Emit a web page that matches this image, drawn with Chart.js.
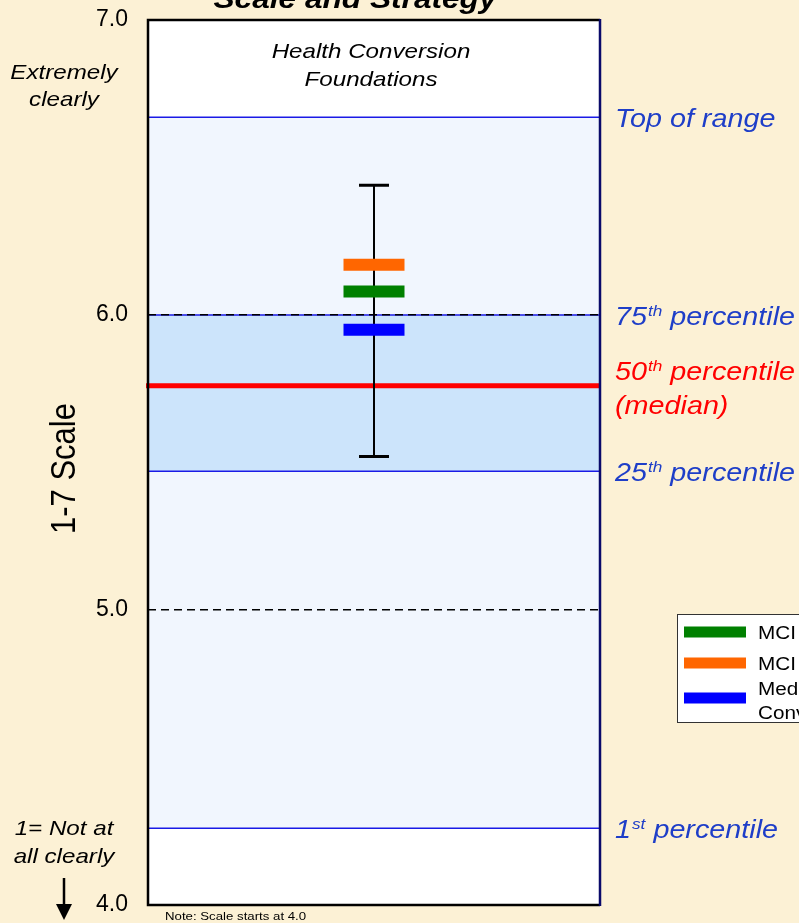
<!DOCTYPE html>
<html>
<head>
<meta charset="utf-8">
<script src="https://cdn.jsdelivr.net/npm/chart.js@4.4.1/dist/chart.umd.min.js"></script>
<style>
    html, body {
        margin: 0;
        padding: 0;
        background: #fcf1d5;
        overflow: hidden;
    }
    #wrap {
        width: 799px;
        height: 923px;
    }
</style>
</head>
<body>
<div id="wrap"><canvas id="scaleChart" width="799" height="923"></canvas></div>
<script>
// Chart values
const categories = ['Health Conversion Foundations'];
const seriesNames = ['MCI Top Quartile', 'MCI Average', 'Median\nConversion'];
const greenValues = [6.08];
const orangeValues = [6.17];
const blueValues = [5.95];
const rangeLow = [5.52];
const rangeHigh = [6.44];

// Reference lines: top of range, 75th, 50th, 25th, 1st percentile
const refValues = [6.67, 6.0, 5.76, 5.47, 4.26];
const refNums = ['', '75', '50', '25', '1'];
const refSups = ['', 'th', 'th', 'th', 'st'];
const refTexts = ['Top of range', ' percentile', ' percentile', ' percentile', ' percentile'];

const yTicks = [4, 5, 6, 7];

const seriesValues = [greenValues, orangeValues, blueValues];
const seriesColors = ['#008000', '#ff6600', '#0000ff'];

const FONT = '"Liberation Sans", Arial, sans-serif';
const SX = 1.15; // lettering in the source is a bit wide

function drawText(ctx, text, x, y, font, color, align = 'left') {
    ctx.save();
    ctx.font = font;
    ctx.fillStyle = color;
    ctx.textBaseline = 'alphabetic';
    ctx.textAlign = 'left';
    const w = ctx.measureText(text).width * SX;
    let left = x;
    if (align === 'center') left = x - w / 2;
    if (align === 'right') left = x - w;
    ctx.translate(left, y);
    ctx.scale(SX, 1);
    ctx.fillText(text, 0, 0);
    ctx.restore();
    return w;
}

function drawRefLabel(ctx, i, x, y, color) {
    let cx = x;
    if (refNums[i]) {
        cx += drawText(ctx, refNums[i], cx, y, `italic 25px ${FONT}`, color);
        cx += drawText(ctx, refSups[i], cx + 1, y - 9, `italic 15px ${FONT}`, color) + 1;
    }
    drawText(ctx, refTexts[i], cx, y, `italic 25px ${FONT}`, color);
}

const backdropPlugin = {
    id: 'backdrop',
    beforeDraw(chart) {
        const { ctx, chartArea: a, scales: { y } } = chart;
        ctx.save();
        ctx.fillStyle = '#fcf1d5';
        ctx.fillRect(0, 0, chart.width, chart.height);
        ctx.fillStyle = '#ffffff';
        ctx.fillRect(a.left, a.top, a.right - a.left, a.bottom - a.top);

        // range band and interquartile band
        const yTop = y.getPixelForValue(refValues[0]);
        const y1 = y.getPixelForValue(refValues[4]);
        ctx.fillStyle = '#f1f6fe';
        ctx.fillRect(a.left, yTop, a.right - a.left, y1 - yTop);
        const y75 = y.getPixelForValue(refValues[1]);
        const y25 = y.getPixelForValue(refValues[3]);
        ctx.fillStyle = '#cce4fb';
        ctx.fillRect(a.left, y75, a.right - a.left, y25 - y75);

        // blue percentile lines
        ctx.strokeStyle = '#1a1ae6';
        ctx.lineWidth = 1.5;
        [0, 1, 3, 4].forEach((i) => {
            const py = y.getPixelForValue(refValues[i]);
            ctx.beginPath();
            ctx.moveTo(a.left, py);
            ctx.lineTo(a.right, py);
            ctx.stroke();
        });
        ctx.restore();
    },
    beforeDatasetsDraw(chart) {
        const { ctx, chartArea: a, scales: { x, y } } = chart;
        ctx.save();

        // median line
        const ym = y.getPixelForValue(refValues[2]);
        ctx.strokeStyle = '#ff0000';
        ctx.lineWidth = 5;
        ctx.beginPath();
        ctx.moveTo(a.left - 2, ym);
        ctx.lineTo(a.right, ym);
        ctx.stroke();

        // range whiskers
        categories.forEach((c, i) => {
            const px = x.getPixelForValue(i);
            const hi = y.getPixelForValue(rangeHigh[i]);
            const lo = y.getPixelForValue(rangeLow[i]);
            ctx.strokeStyle = '#000000';
            ctx.lineWidth = 2;
            ctx.beginPath();
            ctx.moveTo(px, hi);
            ctx.lineTo(px, lo);
            ctx.stroke();
            ctx.lineWidth = 3;
            ctx.beginPath();
            ctx.moveTo(px - 15, hi);
            ctx.lineTo(px + 15, hi);
            ctx.moveTo(px - 15, lo);
            ctx.lineTo(px + 15, lo);
            ctx.stroke();
        });
        ctx.restore();
    },
    afterDatasetsDraw(chart) {
        const { ctx, chartArea: a, scales: { x, y } } = chart;
        ctx.save();

        // plot frame
        ctx.lineWidth = 2.5;
        ctx.strokeStyle = '#000000';
        ctx.beginPath();
        ctx.moveTo(a.right, a.top);
        ctx.lineTo(a.left, a.top);
        ctx.lineTo(a.left, a.bottom);
        ctx.lineTo(a.right, a.bottom);
        ctx.stroke();
        ctx.strokeStyle = '#0a0a6a';
        ctx.beginPath();
        ctx.moveTo(a.right, a.top - 1);
        ctx.lineTo(a.right, a.bottom + 1);
        ctx.stroke();

        // category name inside the plot
        const cx = x.getPixelForValue(0) - 3;
        const words = categories[0].split(' ');
        drawText(ctx, words.slice(0, 2).join(' '), cx, a.top + 38, `italic 21px ${FONT}`, '#000', 'center');
        drawText(ctx, words.slice(2).join(' '), cx, a.top + 66, `italic 21px ${FONT}`, '#000', 'center');

        // title (runs off the top)
        drawText(ctx, 'Scale and Strategy', 355, 8, `italic bold 27.5px ${FONT}`, '#000', 'center');

        // right hand labels
        const lx = a.right + 15;
        refValues.forEach((v, i) => {
            const py = y.getPixelForValue(v);
            if (i === 2) {
                drawRefLabel(ctx, i, lx, py - 6, '#ff0000');
                drawText(ctx, '(median)', lx, py + 28, `italic 25px ${FONT}`, '#ff0000');
            } else {
                drawRefLabel(ctx, i, lx, py + 10, '#1e3ec8');
            }
        });

        // left hand notes
        drawText(ctx, 'Extremely', 64, 79, `italic 21px ${FONT}`, '#000', 'center');
        drawText(ctx, 'clearly', 64, 106, `italic 21px ${FONT}`, '#000', 'center');
        drawText(ctx, '1= Not at', 64, 835, `italic 21px ${FONT}`, '#000', 'center');
        drawText(ctx, 'all clearly', 64, 863, `italic 21px ${FONT}`, '#000', 'center');

        // axis title
        ctx.save();
        ctx.translate(65, (a.top + a.bottom) / 2 + 6);
        ctx.scale(SX, 1);
        ctx.rotate(-Math.PI / 2);
        ctx.font = `31px ${FONT}`;
        ctx.fillStyle = '#000';
        ctx.textAlign = 'center';
        ctx.textBaseline = 'middle';
        ctx.fillText('1-7 Scale', 0, 0);
        ctx.restore();

        // down arrow
        ctx.strokeStyle = '#000';
        ctx.fillStyle = '#000';
        ctx.lineWidth = 2.5;
        ctx.beginPath();
        ctx.moveTo(64, 878);
        ctx.lineTo(64, 906);
        ctx.stroke();
        ctx.beginPath();
        ctx.moveTo(56, 904);
        ctx.lineTo(72, 904);
        ctx.lineTo(64, 920);
        ctx.closePath();
        ctx.fill();

        drawText(ctx, 'Note: Scale starts at 4.0', 165, 920, `11.5px ${FONT}`, '#000');

        // legend box (runs off the right edge)
        ctx.fillStyle = '#ffffff';
        ctx.fillRect(677, 614, 260, 108);
        ctx.strokeStyle = '#333';
        ctx.lineWidth = 1;
        ctx.strokeRect(677.5, 614.5, 260, 108);
        const rows = [632, 663, 698];
        chart.data.datasets.forEach((ds, i) => {
            ctx.strokeStyle = ds.borderColor;
            ctx.lineWidth = 11;
            ctx.beginPath();
            ctx.moveTo(684, rows[i]);
            ctx.lineTo(746, rows[i]);
            ctx.stroke();
            const lines = ds.label.split('\n');
            if (lines.length === 1) {
                drawText(ctx, lines[0], 758, rows[i] + 7, `18px ${FONT}`, '#000');
            } else {
                drawText(ctx, lines[0], 758, rows[i] - 3, `18px ${FONT}`, '#000');
                drawText(ctx, lines[1], 758, rows[i] + 21, `18px ${FONT}`, '#000');
            }
        });
        ctx.restore();
    }
};

const ctx = document.getElementById('scaleChart').getContext('2d');
const scaleChart = new Chart(ctx, {
    type: 'line',
    data: {
        labels: categories,
        datasets: seriesNames.map((name, i) => ({
            label: name,
            data: seriesValues[i],
            borderColor: seriesColors[i],
            backgroundColor: seriesColors[i],
            showLine: false,
            pointStyle: 'line',
            pointRadius: 30.5,
            pointBorderWidth: 12,
            pointBorderColor: seriesColors[i]
        }))
    },
    options: {
        responsive: false,
        animation: false,
        events: [],
        layout: {
            autoPadding: false,
            padding: { left: 0, top: 20, right: 199, bottom: 18 }
        },
        plugins: {
            legend: { display: false },
            tooltip: { enabled: false }
        },
        scales: {
            x: {
                type: 'category',
                offset: true,
                display: false
            },
            y: {
                min: 4,
                max: 7,
                afterBuildTicks: (scale) => {
                    scale.ticks = yTicks.map((v) => ({ value: v }));
                },
                afterFit: (scale) => {
                    scale.width = 148;
                },
                ticks: {
                    callback: (v) => Number(v).toFixed(1),
                    color: '#000',
                    padding: 2,
                    font: { family: FONT, size: 23 }
                },
                grid: {
                    color: '#000',
                    lineWidth: 1.5,
                    drawTicks: true,
                    tickLength: 18,
                    tickColor: 'rgba(0,0,0,0)'
                },
                border: {
                    display: false,
                    dash: [8, 5]
                }
            }
        }
    },
    plugins: [backdropPlugin]
});
</script>
</body>
</html>
